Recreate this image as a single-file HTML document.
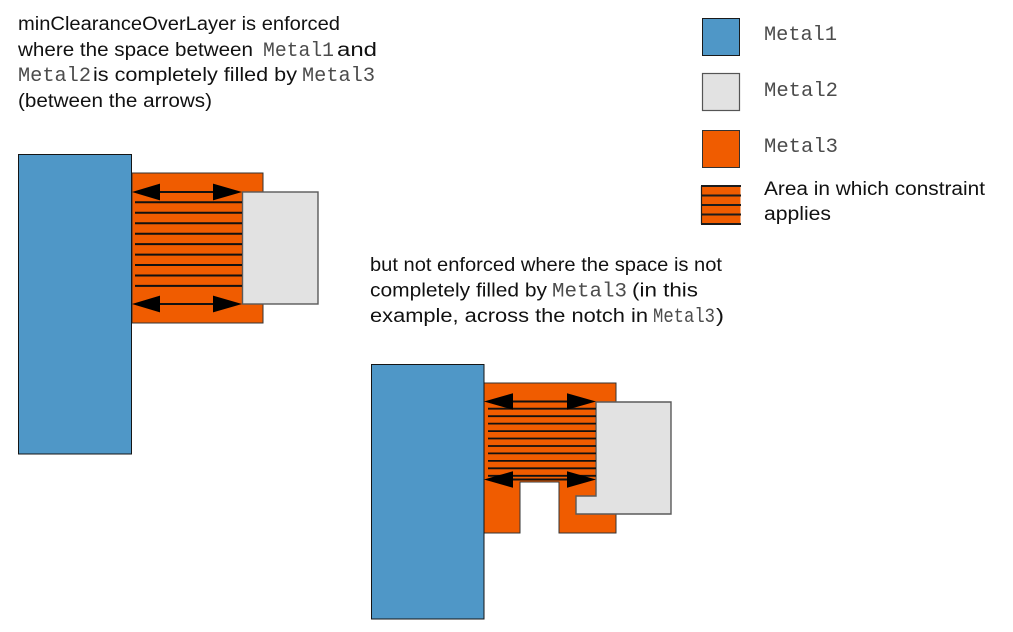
<!DOCTYPE html>
<html>
<head>
<meta charset="utf-8">
<style>
  html, body { margin: 0; padding: 0; background: #ffffff; }
  body { width: 1013px; height: 632px; overflow: hidden; }
  svg { display: block; }
  .sans { font-family: "Liberation Sans", Arial, Helvetica, sans-serif; font-size: 19.6px; fill: #111; }
  .mono { font-family: "Liberation Mono", "Courier New", monospace; font-size: 20.5px; fill: #4c4c4c; }
</style>
</head>
<body>
<svg width="1013" height="632" viewBox="0 0 1013 632" xmlns="http://www.w3.org/2000/svg">
  <rect x="0" y="0" width="1013" height="632" fill="#ffffff"/>

  <!-- ===== Top-left paragraph ===== -->
  <text class="sans" x="18" y="30" textLength="322" lengthAdjust="spacingAndGlyphs">minClearanceOverLayer is enforced</text>
  <text class="sans" x="18" y="56" textLength="235" lengthAdjust="spacingAndGlyphs">where the space between</text>
  <text class="mono" x="263" y="56" textLength="71" lengthAdjust="spacingAndGlyphs">Metal1</text>
  <text class="sans" x="337" y="56" textLength="40" lengthAdjust="spacingAndGlyphs">and</text>
  <text class="mono" x="18" y="81" textLength="73" lengthAdjust="spacingAndGlyphs">Metal2</text>
  <text class="sans" x="93" y="81" textLength="204" lengthAdjust="spacingAndGlyphs">is completely filled by</text>
  <text class="mono" x="302" y="81" textLength="73" lengthAdjust="spacingAndGlyphs">Metal3</text>
  <text class="sans" x="18" y="107" textLength="194" lengthAdjust="spacingAndGlyphs">(between the arrows)</text>

  <!-- ===== Second paragraph ===== -->
  <text class="sans" x="370" y="271" textLength="352" lengthAdjust="spacingAndGlyphs">but not enforced where the space is not</text>
  <text class="sans" x="370" y="296.5" textLength="177" lengthAdjust="spacingAndGlyphs">completely filled by</text>
  <text class="mono" x="552" y="296.5" textLength="75" lengthAdjust="spacingAndGlyphs">Metal3</text>
  <text class="sans" x="632" y="296.5" textLength="66" lengthAdjust="spacingAndGlyphs">(in this</text>
  <text class="sans" x="370" y="322" textLength="278" lengthAdjust="spacingAndGlyphs">example, across the notch in</text>
  <text class="mono" x="653" y="322" textLength="62" lengthAdjust="spacingAndGlyphs">Metal3</text>
  <text class="sans" x="716" y="322" textLength="8" lengthAdjust="spacingAndGlyphs">)</text>

  <!-- ===== Legend ===== -->
  <rect x="702.5" y="18.5" width="37" height="37" fill="#4f97c7" stroke="#1a1a1a" stroke-width="1"/>
  <rect x="702.5" y="73.5" width="37" height="37" fill="#e2e2e2" stroke="#555" stroke-width="1.2"/>
  <rect x="702.5" y="130.5" width="37" height="37" fill="#f05c00" stroke="#333" stroke-width="1"/>
  <rect x="701" y="186" width="39.5" height="38" fill="#f05c00"/>
  <g stroke="#1c1c1c" stroke-width="2">
    <line x1="701" y1="186" x2="741" y2="186"/>
    <line x1="701" y1="195.5" x2="741" y2="195.5"/>
    <line x1="701" y1="205" x2="741" y2="205"/>
    <line x1="701" y1="214.5" x2="741" y2="214.5"/>
    <line x1="701" y1="224" x2="741" y2="224"/>
    <line x1="701.5" y1="186" x2="701.5" y2="224" stroke-width="1.2"/>
  </g>

  <text class="mono" x="764" y="40" textLength="73" lengthAdjust="spacingAndGlyphs">Metal1</text>
  <text class="mono" x="764" y="96" textLength="74" lengthAdjust="spacingAndGlyphs">Metal2</text>
  <text class="mono" x="764" y="152" textLength="74" lengthAdjust="spacingAndGlyphs">Metal3</text>
  <text class="sans" x="764" y="195" textLength="221" lengthAdjust="spacingAndGlyphs">Area in which constraint</text>
  <text class="sans" x="764" y="220" textLength="67" lengthAdjust="spacingAndGlyphs">applies</text>

  <!-- ===== Left figure ===== -->
  <rect x="132" y="173" width="131" height="150" fill="#f05c00" stroke="#333" stroke-width="1"/>
  <rect x="18.5" y="154.5" width="113" height="299.5" fill="#4f97c7" stroke="#151515" stroke-width="1"/>
  <rect x="242.5" y="192" width="75.5" height="112" fill="#e2e2e2" stroke="#5a5a5a" stroke-width="1.4"/>

  <g stroke="#111" stroke-width="2">
    <line x1="135" y1="202.3" x2="242" y2="202.3"/>
    <line x1="135" y1="212.8" x2="242" y2="212.8"/>
    <line x1="135" y1="223.2" x2="242" y2="223.2"/>
    <line x1="135" y1="233.7" x2="242" y2="233.7"/>
    <line x1="135" y1="244.1" x2="242" y2="244.1"/>
    <line x1="135" y1="254.6" x2="242" y2="254.6"/>
    <line x1="135" y1="265" x2="242" y2="265"/>
    <line x1="135" y1="275.5" x2="242" y2="275.5"/>
    <line x1="135" y1="285.9" x2="242" y2="285.9"/>
    <line x1="158" y1="192" x2="215" y2="192"/>
    <line x1="158" y1="304" x2="215" y2="304"/>
  </g>
  <g fill="#000">
    <polygon points="132,192 160,183.6 160,200.4"/>
    <polygon points="242,192 213,183.6 213,200.4"/>
    <polygon points="132,304 160,295.6 160,312.4"/>
    <polygon points="242,304 213,295.6 213,312.4"/>
  </g>

  <!-- ===== Right figure ===== -->
  <polygon points="484,383 616,383 616,533 559,533 559,482 520,482 520,533 484,533" fill="#f05c00" stroke="#333" stroke-width="1"/>
  <rect x="371.5" y="364.5" width="112.5" height="254.5" fill="#4f97c7" stroke="#151515" stroke-width="1"/>
  <polygon points="596,402 671,402 671,514 576,514 576,496 596,496" fill="#e2e2e2" stroke="#5a5a5a" stroke-width="1.4"/>

  <g stroke="#111" stroke-width="1.8">
    <line x1="488" y1="408.7" x2="596" y2="408.7"/>
    <line x1="488" y1="416.2" x2="596" y2="416.2"/>
    <line x1="488" y1="423.6" x2="596" y2="423.6"/>
    <line x1="488" y1="431.1" x2="596" y2="431.1"/>
    <line x1="488" y1="438.5" x2="596" y2="438.5"/>
    <line x1="488" y1="446" x2="596" y2="446"/>
    <line x1="488" y1="453.4" x2="596" y2="453.4"/>
    <line x1="488" y1="460.9" x2="596" y2="460.9"/>
    <line x1="488" y1="468.3" x2="596" y2="468.3"/>
    <line x1="488" y1="475.8" x2="596" y2="475.8"/>
    <line x1="511" y1="401.5" x2="569" y2="401.5" stroke-width="2"/>
    <line x1="511" y1="479.5" x2="569" y2="479.5" stroke-width="2"/>
  </g>
  <g fill="#000">
    <polygon points="484,401.5 513,393.2 513,409.8"/>
    <polygon points="596,401.5 567,393.2 567,409.8"/>
    <polygon points="484,479.5 513,471.2 513,487.8"/>
    <polygon points="596,479.5 567,471.2 567,487.8"/>
  </g>
</svg>
</body>
</html>
